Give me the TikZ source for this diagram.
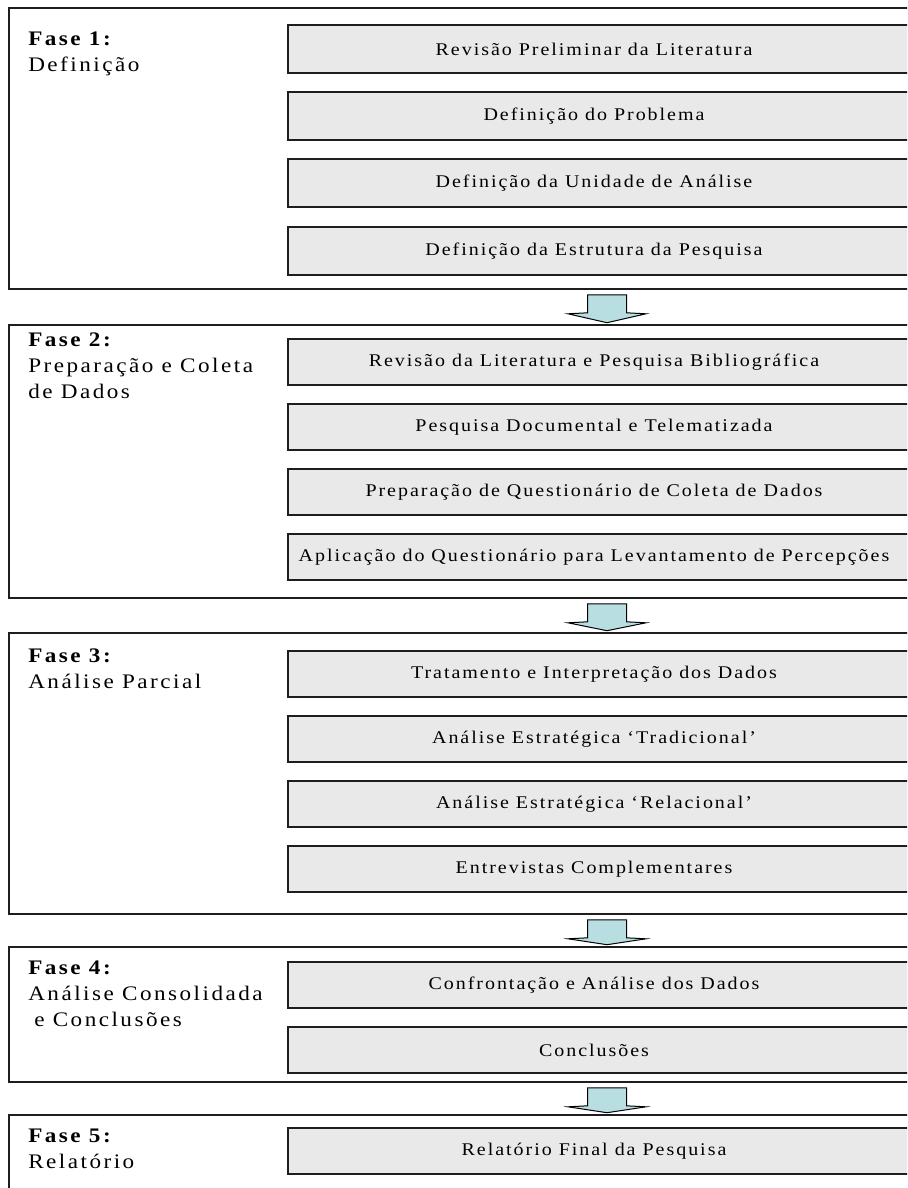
\documentclass[tikz,border=0pt]{standalone}
\usepackage{fontspec}
\setmainfont{Liberation Serif}
\newfontfamily\stepfont[FakeStretch=1.12, LetterSpace=11]{Liberation Serif}
\newfontfamily\titlefont[FakeStretch=1.12, LetterSpace=12]{Liberation Serif}
\usetikzlibrary{fit,calc}

\definecolor{boxfill}{HTML}{E9E9E9}
\definecolor{arrowfill}{HTML}{B8DEE2}
\definecolor{frameline}{HTML}{1E1E1E}

\tikzset{
  phasebox/.style={draw=frameline, line width=1.2pt, inner sep=0pt, rectangle},
  stepbox/.style={draw=frameline, fill=boxfill, line width=1.2pt, inner sep=0pt, rectangle},
  steptext/.style={font=\stepfont\fontsize{13.4}{15}\selectfont, inner sep=0pt, anchor=center},
  phaselabel/.style={font=\titlefont\fontsize{15.5}{19.5}\selectfont, align=left, anchor=north west, inner sep=0pt},
  flowarrow/.style={draw=black, fill=arrowfill, line width=0.75pt, line join=miter},
}

% block arrow hanging below phase #1 with its tip on phase #2
\newcommand\phasearrow[2]{%
  \draw[flowarrow] ($(ax|-#1.south)+(-19.5,5)$) -- ++(39,0) -- ++(0,18) -- ++(19.5,1)
    -- ($(ax|-#2.north)+(0,-1.5)$) -- ($(ax|-#1.south)+(-39,24)$)
    -- ($(ax|-#1.south)+(-19.5,23)$) -- cycle;}

\begin{document}
\begin{tikzpicture}[x=0.75pt,y=-0.75pt]
\useasboundingbox (0,0) rectangle (907,1188);
\fill[white] (0,0) rectangle (907,1188);
\clip (0,0) rectangle (907,1188);
\coordinate (ax) at (607,0);
\coordinate (tx) at (594,0);

% ---------- phase frames
\node[phasebox, fit={(9,8) (940,289)}] (f1) {};
\node[phasebox, fit={(9,325) (940,598)}] (f2) {};
\node[phasebox, fit={(9,633) (940,914)}] (f3) {};
\node[phasebox, fit={(9,947) (940,1082)}] (f4) {};
\node[phasebox, fit={(9,1115) (940,1220)}] (f5) {};

% ---------- phase titles (top of first line sits about 14px above its baseline)
\node[phaselabel] (l1) at (28,32) {\textbf{Fase 1:}\\Definição};
\node[phaselabel] (l2) at (28,333) {\textbf{Fase 2:}\\Preparação e Coleta\\de Dados};
\node[phaselabel] (l3) at (28,649) {\textbf{Fase 3:}\\Análise Parcial};
\node[phaselabel] (l4) at (28,961) {\textbf{Fase 4:}\\Análise Consolidada\\\hspace*{4.5pt}e Conclusões};
\node[phaselabel] (l5) at (28,1129) {\textbf{Fase 5:}\\Relatório};

% ---------- phase 1 steps
\node[stepbox, fit={(288,25) (940,73)}] (s1a) {};
\node[stepbox, fit={(288,92) (940,140)}] (s1b) {};
\node[stepbox, fit={(288,159) (940,207)}] (s1c) {};
\node[stepbox, fit={(288,227) (940,275)}] (s1d) {};
\node[steptext] (t1a) at (tx|-s1a) {Revisão Preliminar da Literatura};
\node[steptext] (t1b) at (tx|-s1b) {Definição do Problema};
\node[steptext] (t1c) at (tx|-s1c) {Definição da Unidade de Análise};
\node[steptext] (t1d) at (tx|-s1d) {Definição da Estrutura da Pesquisa};

% ---------- phase 2 steps
\node[stepbox, fit={(288,339) (940,385)}] (s2a) {};
\node[stepbox, fit={(288,404) (940,450)}] (s2b) {};
\node[stepbox, fit={(288,469) (940,515)}] (s2c) {};
\node[stepbox, fit={(288,534) (940,580)}] (s2d) {};
\node[steptext] (t2a) at (tx|-s2a) {Revisão da Literatura e Pesquisa Bibliográfica};
\node[steptext] (t2b) at (tx|-s2b) {Pesquisa Documental e Telematizada};
\node[steptext] (t2c) at (tx|-s2c) {Preparação de Questionário de Coleta de Dados};
\node[steptext] (t2d) at (tx|-s2d) {Aplicação do Questionário para Levantamento de Percepções};

% ---------- phase 3 steps
\node[stepbox, fit={(288,651) (940,697)}] (s3a) {};
\node[stepbox, fit={(288,716) (940,762)}] (s3b) {};
\node[stepbox, fit={(288,781) (940,827)}] (s3c) {};
\node[stepbox, fit={(288,846) (940,892)}] (s3d) {};
\node[steptext] (t3a) at (tx|-s3a) {Tratamento e Interpretação dos Dados};
\node[steptext] (t3b) at (tx|-s3b) {Análise Estratégica ‘Tradicional’};
\node[steptext] (t3c) at (tx|-s3c) {Análise Estratégica ‘Relacional’};
\node[steptext] (t3d) at (tx|-s3d) {Entrevistas Complementares};

% ---------- phase 4 steps
\node[stepbox, fit={(288,962) (940,1008)}] (s4a) {};
\node[stepbox, fit={(288,1027) (940,1073)}] (s4b) {};
\node[steptext] (t4a) at (tx|-s4a) {Confrontação e Análise dos Dados};
\node[steptext] (t4b) at (tx|-s4b) {Conclusões};

% ---------- phase 5 step
\node[stepbox, fit={(288,1128) (940,1174)}] (s5a) {};
\node[steptext] (t5a) at (tx|-s5a) {Relatório Final da Pesquisa};

% ---------- arrows between phases
\phasearrow{f1}{f2}
\phasearrow{f2}{f3}
\phasearrow{f3}{f4}
\phasearrow{f4}{f5}
\end{tikzpicture}
\end{document}
